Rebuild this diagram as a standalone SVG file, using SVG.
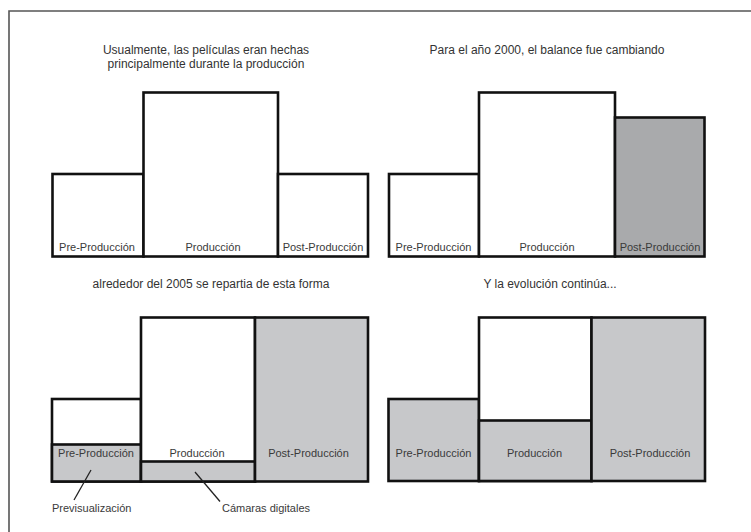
<svg xmlns="http://www.w3.org/2000/svg" width="751" height="532" viewBox="0 0 751 532">
<style>
  .bar { stroke: #111; stroke-width: 2.6; }
  .w { fill: #fff; }
  .g { fill: #c7c8ca; }
  .gd { fill: #a9aaac; }
  .title { font-family: "Liberation Sans", Arial, sans-serif; font-size: 12px; fill: #333; text-anchor: middle; }
  .lbl { font-family: "Liberation Sans", Arial, sans-serif; font-size: 11px; fill: #3a3a3a; text-anchor: middle; }
  .note { font-family: "Liberation Sans", Arial, sans-serif; font-size: 11px; fill: #3a3a3a; }
  .lead { stroke: #222; stroke-width: 1.3; fill: none; }
</style>
<rect x="0" y="0" width="751" height="532" fill="#fff"/>
<g id="frame">
  <path d="M9 532 V11 H751" fill="none" stroke="#555" stroke-width="1.6"/>
</g>

<g id="panel1">
  <text class="title" x="206" y="54">Usualmente, las películas eran hechas</text>
  <text class="title" x="206" y="68">principalmente durante la producción</text>
  <g id="p1-pre"><rect class="bar w" x="52.5" y="174" width="91" height="82.5"/><text class="lbl" x="97" y="251">Pre-Producción</text></g>
  <g id="p1-prod"><rect class="bar w" x="143.5" y="92.5" width="134.5" height="164"/><text class="lbl" x="213" y="251">Producción</text></g>
  <g id="p1-post"><rect class="bar w" x="278" y="174" width="90" height="82.5"/><text class="lbl" x="323" y="251">Post-Producción</text></g>
</g>

<g id="panel2">
  <text class="title" x="547" y="54">Para el año 2000, el balance fue cambiando</text>
  <g id="p2-pre"><rect class="bar w" x="389" y="174" width="90" height="82.5"/><text class="lbl" x="433.5" y="251">Pre-Producción</text></g>
  <g id="p2-prod"><rect class="bar w" x="479" y="92.5" width="136" height="164"/><text class="lbl" x="547" y="251">Producción</text></g>
  <g id="p2-post"><rect class="bar gd" x="615" y="117.5" width="89.5" height="139"/><text class="lbl" x="660" y="251">Post-Producción</text></g>
</g>

<g id="panel3">
  <text class="title" x="211" y="288">alrededor del 2005 se repartia de esta forma</text>
  <g id="p3-pre">
    <rect class="bar w" x="52" y="399" width="89" height="82.5"/>
    <rect class="bar g" x="52" y="444.5" width="89" height="37"/>
    <text class="lbl" x="96" y="456.5">Pre-Producción</text>
  </g>
  <g id="p3-prod">
    <rect class="bar w" x="141" y="317.5" width="114" height="164"/>
    <rect class="bar g" x="141" y="461.5" width="114" height="20"/>
    <text class="lbl" x="197" y="456.5">Producción</text>
  </g>
  <g id="p3-post">
    <rect class="bar g" x="255" y="317.5" width="113" height="164"/>
    <text class="lbl" x="308.5" y="456.5">Post-Producción</text>
  </g>
  <g id="p3-previs"><text class="note" x="52" y="512">Previsualización</text></g>
  <g id="p3-cam"><text class="note" x="222" y="512">Cámaras digitales</text></g>
</g>

<g id="panel4">
  <text class="title" x="550" y="288">Y la evolución continúa...</text>
  <g id="p4-pre"><rect class="bar g" x="388.5" y="399" width="90.5" height="82"/><text class="lbl" x="433.5" y="456.5">Pre-Producción</text></g>
  <g id="p4-prod">
    <rect class="bar w" x="479" y="317.5" width="112.5" height="163.5"/>
    <rect class="bar g" x="479" y="420.5" width="112.5" height="60.5"/>
    <text class="lbl" x="534.5" y="456.5">Producción</text>
  </g>
  <g id="p4-post"><rect class="bar g" x="591.5" y="317.5" width="113.5" height="163.5"/><text class="lbl" x="650" y="456.5">Post-Producción</text></g>
</g>

<g id="connectors">
  <line class="lead" x1="91" y1="470" x2="74" y2="500"/>
  <line class="lead" x1="195" y1="472" x2="220" y2="501.5"/>
</g>
</svg>
